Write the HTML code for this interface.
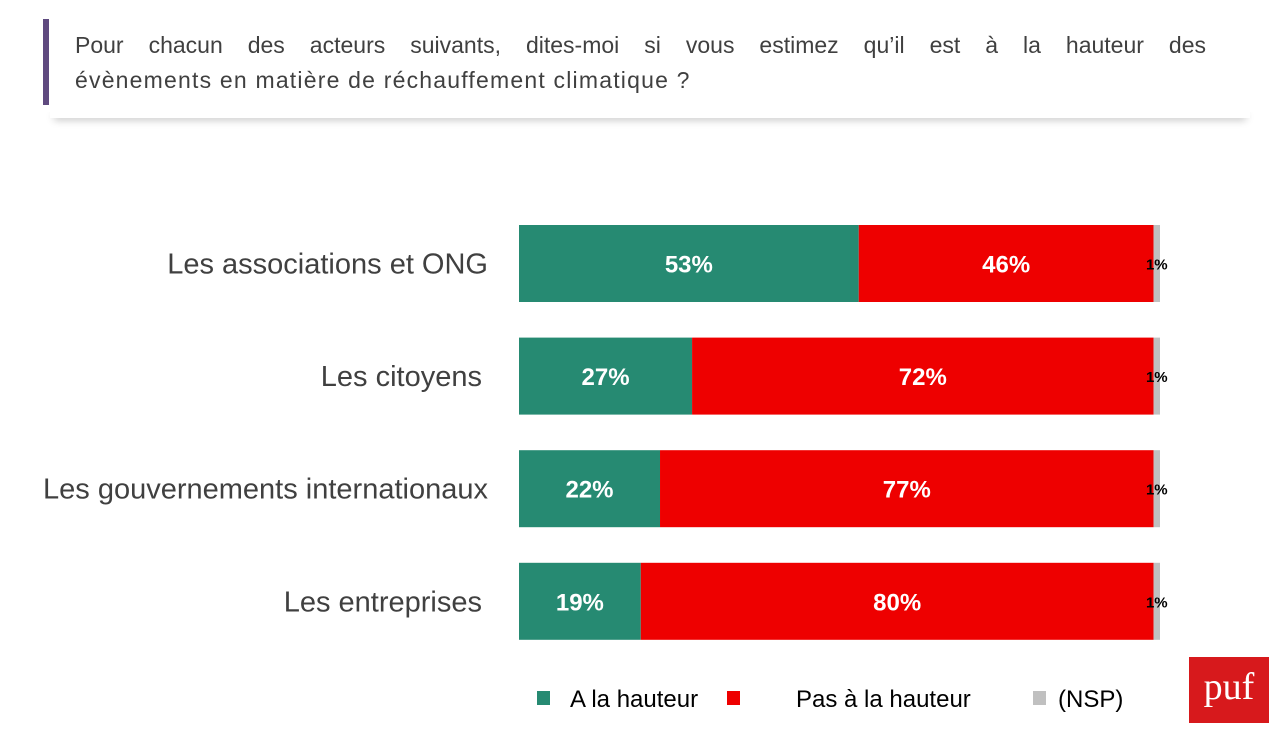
<!DOCTYPE html>
<html><head><meta charset="utf-8"><style>
body{margin:0;width:1286px;height:740px;background:#fff;overflow:hidden;position:relative;font-family:"Liberation Sans",sans-serif}
.abs{position:absolute}
.jl{display:block;text-align:justify;text-align-last:justify}
</style></head><body>
<div class="abs" style="left:50px;top:104px;width:1200px;height:14px;background:#fff;box-shadow:0 6px 8px -4px rgba(0,0,0,0.25)"></div>
<div class="abs" style="left:0;top:0;width:1286px;height:112px;background:#fff"></div>
<div class="abs" style="left:43px;top:19px;width:6px;height:86px;background:#5f4a7f"></div>
<div class="abs" style="left:75px;top:28px;width:1131px;font-size:23px;line-height:35px;color:#404040"><span class="jl">Pour chacun des acteurs suivants, dites-moi si vous estimez qu’il est à la hauteur des</span><span style="letter-spacing:1.2px">évènements en matière de réchauffement climatique ?</span></div>
<svg class="abs" style="left:0;top:0" width="1286" height="740" id="chart"></svg>
<div class="abs" style="left:1189px;top:657px;width:80px;height:66px;background:#d7191c;color:#fff;font-family:'Liberation Serif',serif;font-size:38px;line-height:60px;text-align:center">puf</div>
<script>
const categories=["Les associations et ONG","Les citoyens","Les gouvernements internationaux","Les entreprises"];
const aLaHauteur=[53,27,22,19];
const pasALaHauteur=[46,72,77,80];
const nsp=[1,1,1,1];
const seriesNames=["A la hauteur","Pas à la hauteur","(NSP)"];
const colors=["#268a72","#ee0000","#c0c0c0"];
const NS="http://www.w3.org/2000/svg";
const svg=document.getElementById('chart');
const x0=519,scale=6.41;
const xs=v=>x0+v*scale;
const yTop=i=>225+i*112.6, bh=77;
function el(t,a){const e=document.createElementNS(NS,t);for(const k in a)e.setAttribute(k,a[k]);svg.appendChild(e);return e;}
categories.forEach((c,i)=>{
  const y=yTop(i);
  const t=el('text',{x:(i==1||i==3)?482:488,y:y+bh/2+10,'text-anchor':'end','font-size':29,fill:'#404040','font-family':'Liberation Sans, sans-serif'});
  t.textContent=c;
  
  
  const vals=[aLaHauteur[i],pasALaHauteur[i],nsp[i]];
  let cum=0;
  vals.forEach((v,s)=>{
    const r=el('rect',{x:xs(cum),y:y,width:v*scale,height:bh,fill:colors[s]});
    
    
    const lab=el('text',{'font-family':'Liberation Sans, sans-serif'});
    
    
    if(s<2){
      lab.setAttribute('x',xs(cum+v/2));lab.setAttribute('y',y+bh/2+9);
      lab.setAttribute('text-anchor','middle');lab.setAttribute('font-size',24);
      lab.setAttribute('font-weight','bold');lab.setAttribute('fill','#fff');
    }else{
      lab.setAttribute('x',xs(cum+v/2));lab.setAttribute('y',y+bh/2+6);
      lab.setAttribute('text-anchor','middle');lab.setAttribute('font-size',15);
      lab.setAttribute('font-weight','bold');lab.setAttribute('fill','#000');
    }
    lab.textContent=v+'%';
    cum+=v;
  });
});
const legX=[537,727,1033];
const legTX=[570,796,1058];
seriesNames.forEach((n,s)=>{
  const r=el('rect',{x:legX[s],y:691,width:13,height:14,fill:colors[s]});
  
  
  const t=el('text',{x:legTX[s],y:707,'font-size':24,fill:'#000','font-family':'Liberation Sans, sans-serif'});
  t.textContent=n;
  
  
});
</script>
</body></html>
